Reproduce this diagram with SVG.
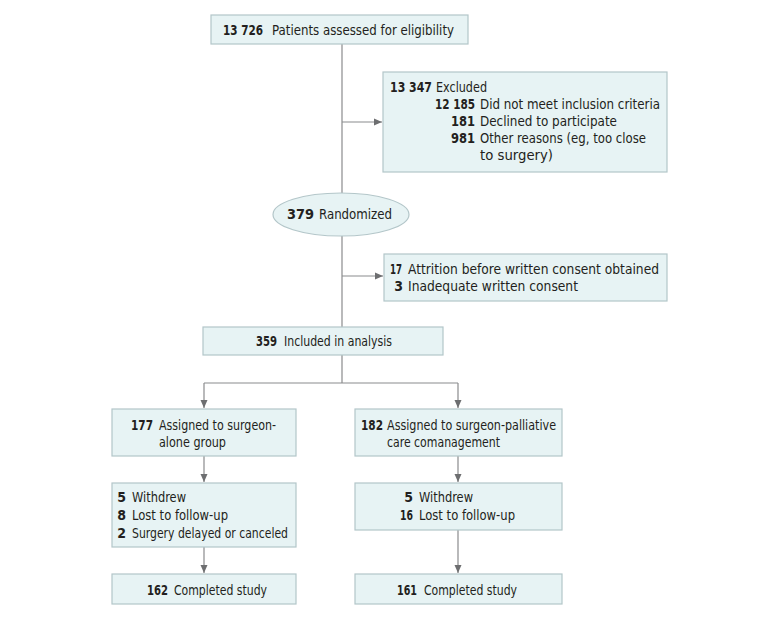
<svg xmlns="http://www.w3.org/2000/svg" width="780" height="621" viewBox="0 0 780 621">
<defs>
<marker id="ah" viewBox="0 0 8 8" refX="8" refY="4" markerWidth="8" markerHeight="8" markerUnits="userSpaceOnUse" orient="auto">
<path d="M0,0.5 L8,4 L0,7.5 Z" fill="#6d6e70"/>
</marker>
<style>
.box{fill:#e7f3f4;stroke:#b3c6c9;stroke-width:1.2}
.ln{fill:none;stroke:#8a8b8d;stroke-width:1.2}
text{font-family:"DejaVu Sans Condensed","Liberation Sans Narrow","Liberation Sans",sans-serif;font-size:14px;fill:#231f20}
.b{font-weight:bold}
.e{text-anchor:end}
</style>
</defs>
<rect width="780" height="621" fill="#ffffff"/>
<g id="connectors">
<path class="ln" d="M342,44 V193"/>
<path class="ln" d="M342,122 H382" marker-end="url(#ah)"/>
<path class="ln" d="M342,236 V327"/>
<path class="ln" d="M342,276 H383" marker-end="url(#ah)"/>
<path class="ln" d="M342,355 V383 M204,383 H458"/>
<path class="ln" d="M204,383 V408" marker-end="url(#ah)"/>
<path class="ln" d="M458,383 V408" marker-end="url(#ah)"/>
<path class="ln" d="M204,456 V482" marker-end="url(#ah)"/>
<path class="ln" d="M458,456 V482" marker-end="url(#ah)"/>
<path class="ln" d="M204,547 V573" marker-end="url(#ah)"/>
<path class="ln" d="M458,530 V573" marker-end="url(#ah)"/>
</g>
<g id="assessed">
<rect class="box" x="211" y="15" width="257" height="29"/>
<text x="223" y="35" class="b" textLength="40" lengthAdjust="spacingAndGlyphs">13 726</text>
<text x="272" y="35" textLength="182" lengthAdjust="spacingAndGlyphs">Patients assessed for eligibility</text>
</g>
<g id="excluded">
<rect class="box" x="383" y="72" width="284" height="100"/>
<text x="390" y="92" class="b" textLength="42" lengthAdjust="spacingAndGlyphs">13 347</text>
<text x="436" y="92" textLength="51" lengthAdjust="spacingAndGlyphs">Excluded</text>
<text x="435" y="109" class="b" textLength="40" lengthAdjust="spacingAndGlyphs">12 185</text>
<text x="480" y="109" textLength="180" lengthAdjust="spacingAndGlyphs">Did not meet inclusion criteria</text>
<text x="451" y="126" class="b" textLength="24" lengthAdjust="spacingAndGlyphs">181</text>
<text x="480" y="126" textLength="137" lengthAdjust="spacingAndGlyphs">Declined to participate</text>
<text x="451" y="143" class="b" textLength="24" lengthAdjust="spacingAndGlyphs">981</text>
<text x="480" y="143" textLength="166" lengthAdjust="spacingAndGlyphs">Other reasons (eg, too close</text>
<text x="480" y="160" textLength="73" lengthAdjust="spacingAndGlyphs">to surgery)</text>
</g>
<g id="randomized">
<ellipse class="box" cx="341" cy="214.5" rx="68" ry="21.5"/>
<text x="287" y="219" class="b" textLength="27" lengthAdjust="spacingAndGlyphs">379</text>
<text x="319" y="219" textLength="73" lengthAdjust="spacingAndGlyphs">Randomized</text>
</g>
<g id="attrition">
<rect class="box" x="384" y="254" width="283" height="47"/>
<text x="390" y="274" class="b" textLength="12" lengthAdjust="spacingAndGlyphs">17</text>
<text x="408" y="274" textLength="251" lengthAdjust="spacingAndGlyphs">Attrition before written consent obtained</text>
<text x="403" y="291" class="b e">3</text>
<text x="408" y="291" textLength="170" lengthAdjust="spacingAndGlyphs">Inadequate written consent</text>
</g>
<g id="included">
<rect class="box" x="203" y="327" width="240" height="28"/>
<text x="256" y="346" class="b" textLength="21" lengthAdjust="spacingAndGlyphs">359</text>
<text x="284" y="346" textLength="108" lengthAdjust="spacingAndGlyphs">Included in analysis</text>
</g>
<g id="surgeon-alone">
<rect class="box" x="112" y="409" width="184" height="47"/>
<text x="131" y="430" class="b" textLength="22" lengthAdjust="spacingAndGlyphs">177</text>
<text x="159" y="430" textLength="117" lengthAdjust="spacingAndGlyphs">Assigned to surgeon-</text>
<text x="159" y="447" textLength="67" lengthAdjust="spacingAndGlyphs">alone group</text>
</g>
<g id="comanagement">
<rect class="box" x="355" y="409" width="207" height="47"/>
<text x="361" y="430" class="b" textLength="22" lengthAdjust="spacingAndGlyphs">182</text>
<text x="387" y="430" textLength="169" lengthAdjust="spacingAndGlyphs">Assigned to surgeon-palliative</text>
<text x="387" y="447" textLength="113" lengthAdjust="spacingAndGlyphs">care comanagement</text>
</g>
<g id="left-loss">
<rect class="box" x="112" y="483" width="184" height="64"/>
<text x="126" y="502" class="b e">5</text>
<text x="132" y="502" textLength="54" lengthAdjust="spacingAndGlyphs">Withdrew</text>
<text x="126" y="520" class="b e">8</text>
<text x="132" y="520" textLength="96" lengthAdjust="spacingAndGlyphs">Lost to follow-up</text>
<text x="126" y="538" class="b e">2</text>
<text x="132" y="538" textLength="156" lengthAdjust="spacingAndGlyphs">Surgery delayed or canceled</text>
</g>
<g id="right-loss">
<rect class="box" x="355" y="483" width="207" height="47"/>
<text x="413" y="502" class="b e">5</text>
<text x="419" y="502" textLength="54" lengthAdjust="spacingAndGlyphs">Withdrew</text>
<text x="400" y="520" class="b" textLength="13" lengthAdjust="spacingAndGlyphs">16</text>
<text x="419" y="520" textLength="96" lengthAdjust="spacingAndGlyphs">Lost to follow-up</text>
</g>
<g id="left-complete">
<rect class="box" x="112" y="574" width="184" height="30"/>
<text x="147" y="595" class="b" textLength="21" lengthAdjust="spacingAndGlyphs">162</text>
<text x="174" y="595" textLength="93" lengthAdjust="spacingAndGlyphs">Completed study</text>
</g>
<g id="right-complete">
<rect class="box" x="355" y="574" width="207" height="30"/>
<text x="397" y="595" class="b" textLength="20" lengthAdjust="spacingAndGlyphs">161</text>
<text x="424" y="595" textLength="93" lengthAdjust="spacingAndGlyphs">Completed study</text>
</g>
</svg>
